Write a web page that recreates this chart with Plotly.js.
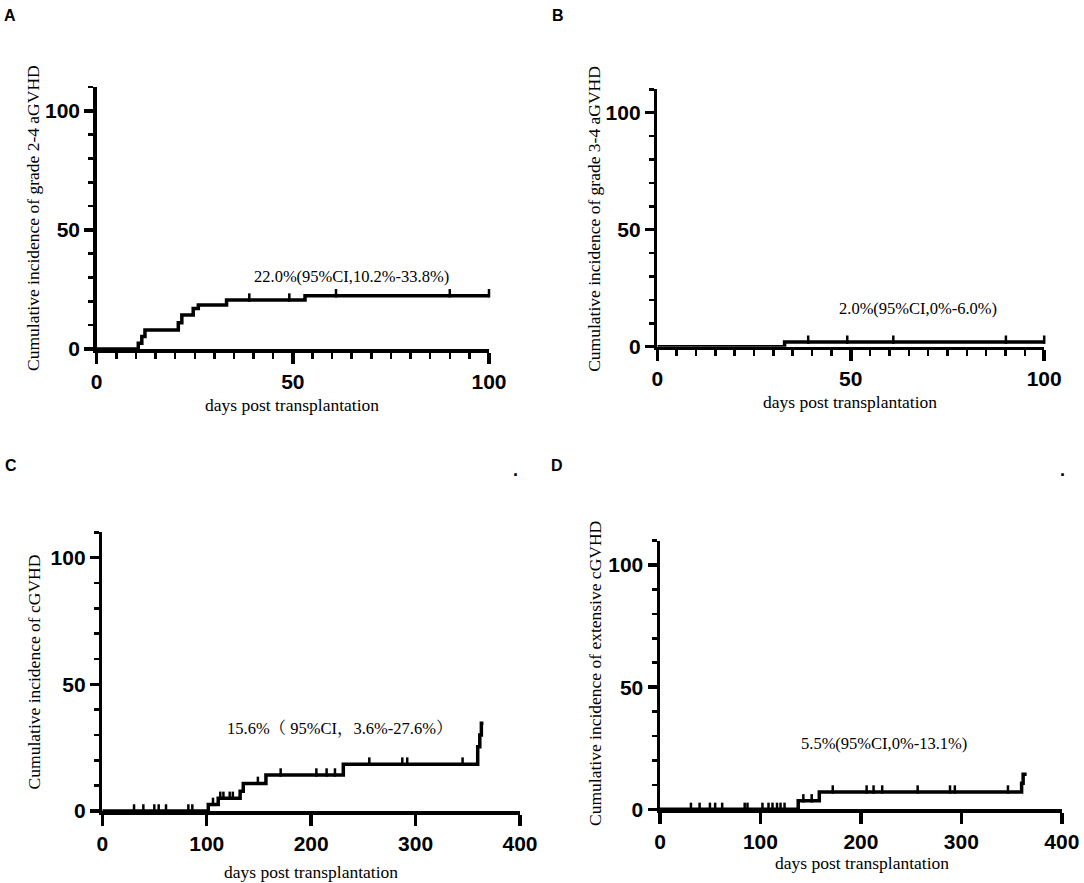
<!DOCTYPE html>
<html>
<head>
<meta charset="utf-8">
<script src="https://cdn.plot.ly/plotly-3.0.1.min.js"></script>
<style>
  body { margin: 0; background: #fff; }
  #plot { width: 1084px; height: 883px; }
</style>
</head>
<body>
<div id="plot"></div>
<script>
// ---- data (days post transplantation, cumulative incidence %) ----
// A: grade 2-4 aGVHD
const aDays = [0, 10.6, 11.5, 12.3, 20.8, 21.7, 24.6, 25.9, 33.1, 53.1, 100];
const aInc  = [0, 2.4, 5.2, 8.0, 11.0, 14.3, 17.0, 18.5, 20.6, 22.4, 22.4];
const aCensor = [38.9, 49.1, 61, 90, 100];
// B: grade 3-4 aGVHD
const bDays = [0, 32.9, 100];
const bInc  = [0, 2.0, 2.0];
const bCensor = [39, 49.1, 61, 90.1, 100];
// C: cGVHD
const cDays = [0, 101.5, 111, 132, 135, 156.7, 230.8, 359.5, 361.5, 363, 365];
const cInc  = [0, 2.6, 5.0, 7.8, 10.9, 14.2, 18.5, 25.4, 30.0, 34.6, 34.6];
const cCensor = [30.4, 39.3, 49.8, 54, 61, 82.4, 86.2, 106, 113, 116, 122, 125, 149,
                 170.8, 205, 214.8, 222.8, 255.7, 287.3, 292, 345];
// D: extensive cGVHD
const dDays = [0, 137.6, 158.6, 360, 361.5, 365];
const dInc  = [0, 3.5, 7.1, 10.7, 14.3, 14.3];
const dCensor = [30.8, 39.4, 49.7, 54.9, 61.9, 84.3, 87.1, 102, 108, 112, 116.5, 120, 124,
                 142.7, 151, 172, 205.7, 212.6, 221.2, 256.5, 288.7, 293.5, 346.4];

const panelLabels = ['A', 'B', 'C', 'D'];
const yTitles = ['Cumulative incidence of grade 2-4 aGVHD',
                 'Cumulative incidence of grade 3-4 aGVHD',
                 'Cumulative incidence of cGVHD',
                 'Cumulative incidence of extensive cGVHD'];
const xTitle = 'days post transplantation';
const notes = ['22.0%(95%CI,10.2%-33.8%)',
               '2.0%(95%CI,0%-6.0%)',
               '15.6%（ 95%CI，3.6%-27.6%）',
               '5.5%(95%CI,0%-13.1%)'];
const shortTicks = [0, 50, 100];
const longTicks = [0, 100, 200, 300, 400];
const yTicks = [0, 50, 100];

// ---- helpers ----
const W = 1084, H = 883;
function px(x) { return x / W }
function py(y) { return 1 - y / H }

// value of the step curve at time t (for placing censor ticks on the line)
function stepAt(days, inc, t) {
  let v = inc[0];
  for (let i = 0; i < days.length; i++) {
    if (days[i] <= t) v = inc[i];
  }
  return v;
}

function curve(days, inc, xa, ya) {
  return {
    x: days, y: inc, xaxis: xa, yaxis: ya,
    type: 'scatter', mode: 'lines',
    line: {shape: 'hv', color: '#000', width: 3.5},
    hoverinfo: 'skip', showlegend: false
  };
}

function censors(days, inc, cens, xa, ya) {
  return {
    x: cens, y: cens.map(t => stepAt(days, inc, t) + 1), xaxis: xa, yaxis: ya,
    type: 'scatter', mode: 'markers', cliponaxis: false,
    marker: {symbol: 'line-ns', size: 6, line: {color: '#000', width: 2.5}},
    hoverinfo: 'skip', showlegend: false
  };
}

const tickFont = {family: 'Liberation Sans, Arial, sans-serif', size: 21, color: '#000', weight: 'bold'};

function xAxis(dom, maxX, vals, minorStep, anchor) {
  let ax = {
    domain: dom, range: [0, maxX], anchor: anchor,
    showline: true, linewidth: 3.5, linecolor: '#000',
    showgrid: false, zeroline: false,
    tickmode: 'array', tickvals: vals,
    ticks: 'outside', ticklen: 11, tickwidth: 3.5, tickcolor: '#000',
    tickfont: tickFont, fixedrange: true
  };
  if (minorStep) {
    ax.minor = {dtick: minorStep, tick0: 0, ticks: 'outside', ticklen: 6, tickwidth: 2.5, tickcolor: '#000', showgrid: false};
  }
  return ax;
}

function yAxis(dom, anchor) {
  return {
    domain: dom, range: [0, 110], anchor: anchor,
    showline: true, linewidth: 3.5, linecolor: '#000',
    showgrid: false, zeroline: false,
    tickmode: 'array', tickvals: yTicks,
    ticks: 'outside', ticklen: 9, tickwidth: 3.5, tickcolor: '#000',
    tickfont: tickFont, fixedrange: true,
    minor: {dtick: 10, tick0: 0, ticks: 'outside', ticklen: 5, tickwidth: 2.5, tickcolor: '#000', showgrid: false}
  };
}

const traces = [
  curve(aDays, aInc, 'x', 'y'),   censors(aDays, aInc, aCensor, 'x', 'y'),
  curve(bDays, bInc, 'x2', 'y2'), censors(bDays, bInc, bCensor, 'x2', 'y2'),
  curve(cDays, cInc, 'x3', 'y3'), censors(cDays, cInc, cCensor, 'x3', 'y3'),
  curve(dDays, dInc, 'x4', 'y4'), censors(dDays, dInc, dCensor, 'x4', 'y4')
];

// pixel boxes of the four plot areas: [left, right, bottom(0), top(110)]
const boxes = [
  [96.7, 489, 349, 87],
  [657.3, 1044.2, 346.7, 89.3],
  [102.3, 520, 811, 532.3],
  [660, 1061.8, 809.3, 540.6]
];
function xd(b) { return [px(b[0]), px(b[1])] }
function yd(b) { return [py(b[2]), py(b[3])] }

const serif = 'Liberation Serif, Times New Roman, Noto Serif CJK SC, Noto Sans CJK SC, serif';
const sans = 'Liberation Sans, Arial, sans-serif';
let annotations = [];
function addText(text, x, y, size, opts) {
  annotations.push(Object.assign({
    text: text, x: px(x), y: py(y), xref: 'paper', yref: 'paper',
    showarrow: false, xanchor: 'center', yanchor: 'middle',
    font: {family: serif, size: size, color: '#000'}
  }, opts || {}));
}

// panel letters
const letterPos = [[10, 16], [558, 16], [11, 465], [557.5, 465]];
for (let i = 0; i < 4; i++) {
  addText(panelLabels[i], letterPos[i][0], letterPos[i][1], 16,
    {font: {family: sans, size: 16, color: '#000', weight: 'bold'}});
}
// the stray dots at the top right of C and D
addText('.', 515.5, 470, 18, {font: {family: sans, size: 18, color: '#000', weight: 'bold'}});
addText('.', 1062, 470, 18, {font: {family: sans, size: 18, color: '#000', weight: 'bold'}});

// y titles
const yTitlePos = [[33, 218], [593.8, 219], [34.4, 672], [595, 674]];
for (let i = 0; i < 4; i++) {
  addText(yTitles[i], yTitlePos[i][0], yTitlePos[i][1], 17.5, {textangle: -90});
}
// x titles
const xTitlePos = [[292, 405], [849.7, 401.7], [310.8, 871.7], [861.5, 863]];
for (let i = 0; i < 4; i++) {
  addText(xTitle, xTitlePos[i][0], xTitlePos[i][1], 17.5);
}
// estimates written inside the panels
const notePos = [[351, 276.7], [918, 308.3], [339, 728.3], [883.6, 743.3]];
for (let i = 0; i < 4; i++) {
  addText(notes[i], notePos[i][0], notePos[i][1], 16.5);
}

const layout = {
  width: W, height: H,
  margin: {l: 0, r: 0, t: 0, b: 0},
  paper_bgcolor: '#fff', plot_bgcolor: '#fff',
  showlegend: false,
  xaxis:  xAxis(xd(boxes[0]), 100, shortTicks, 5, 'y'),
  yaxis:  yAxis(yd(boxes[0]), 'x'),
  xaxis2: xAxis(xd(boxes[1]), 100, shortTicks, 5, 'y2'),
  yaxis2: yAxis(yd(boxes[1]), 'x2'),
  xaxis3: xAxis(xd(boxes[2]), 400, longTicks, null, 'y3'),
  yaxis3: yAxis(yd(boxes[2]), 'x3'),
  xaxis4: xAxis(xd(boxes[3]), 400, longTicks, null, 'y4'),
  yaxis4: yAxis(yd(boxes[3]), 'x4'),
  annotations: annotations
};

Plotly.newPlot('plot', traces, layout, {staticPlot: true, displayModeBar: false});
</script>
</body>
</html>
